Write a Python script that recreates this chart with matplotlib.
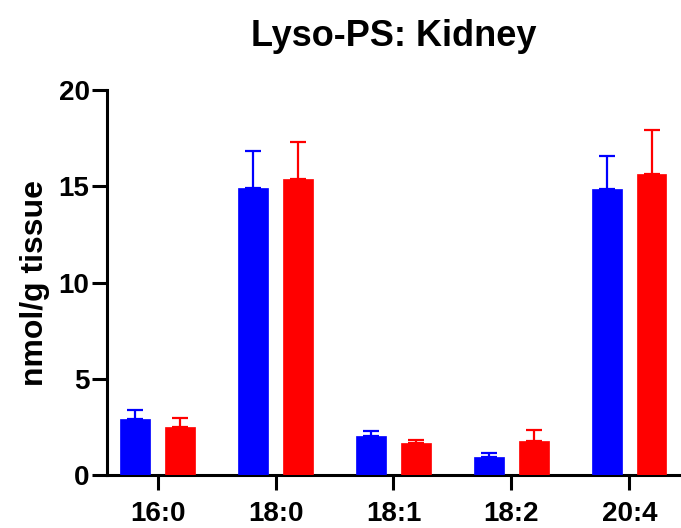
import numpy as np
import matplotlib
matplotlib.use("Agg")
import matplotlib.pyplot as plt

plt.rcParams['font.family'] = ['Liberation Sans', 'DejaVu Sans']
plt.rcParams['font.weight'] = 'bold'

species = ['16:0', '18:0', '18:1', '18:2', '20:4']
blue_mean = [2.91, 14.90, 2.04, 0.95, 14.84]
blue_err = [0.47, 1.95, 0.26, 0.17, 1.75]
red_mean = [2.51, 15.38, 1.68, 1.75, 15.64]
red_err = [0.43, 1.90, 0.14, 0.59, 2.28]

fig = plt.figure(figsize=(6.81, 5.28), dpi=100)
ax = fig.add_axes([0.157, 0.1004, 0.8415, 0.7291])

x = np.arange(len(species))
w = 0.25
off = 0.19
zeros = np.zeros(len(species))

for xs, mean, err, col in [(x - off, blue_mean, blue_err, '#0000ff'),
                           (x + off, red_mean, red_err, '#ff0000')]:
    ax.bar(xs, mean, width=w, color=col, edgecolor=col, linewidth=0.5, zorder=3)
    ax.errorbar(xs, mean, yerr=[zeros, err], fmt='none', ecolor=col,
                elinewidth=1.6, capsize=6, capthick=1.6, zorder=2)

ax.set_xlim(-0.43, 4.43)
ax.set_ylim(0, 20)
ax.set_yticks([0, 5, 10, 15, 20])
ax.set_xticks(x)
ax.set_xticklabels(species)

for side in ['top', 'right']:
    ax.spines[side].set_visible(False)
for side in ['left', 'bottom']:
    ax.spines[side].set_linewidth(2.2)

ax.tick_params(axis='both', length=10.5, width=2.2, labelsize=20)
ax.tick_params(axis='y', pad=2)
ax.tick_params(axis='x', pad=8)
for lab in ax.get_xticklabels() + ax.get_yticklabels():
    lab.set_fontweight('bold')

ax.set_ylabel('nmol/g tissue', fontsize=23, fontweight='bold', labelpad=6)
ax.set_title('Lyso-PS: Kidney', fontsize=26, fontweight='bold', pad=32)

fig.savefig('out.png', dpi=100)
